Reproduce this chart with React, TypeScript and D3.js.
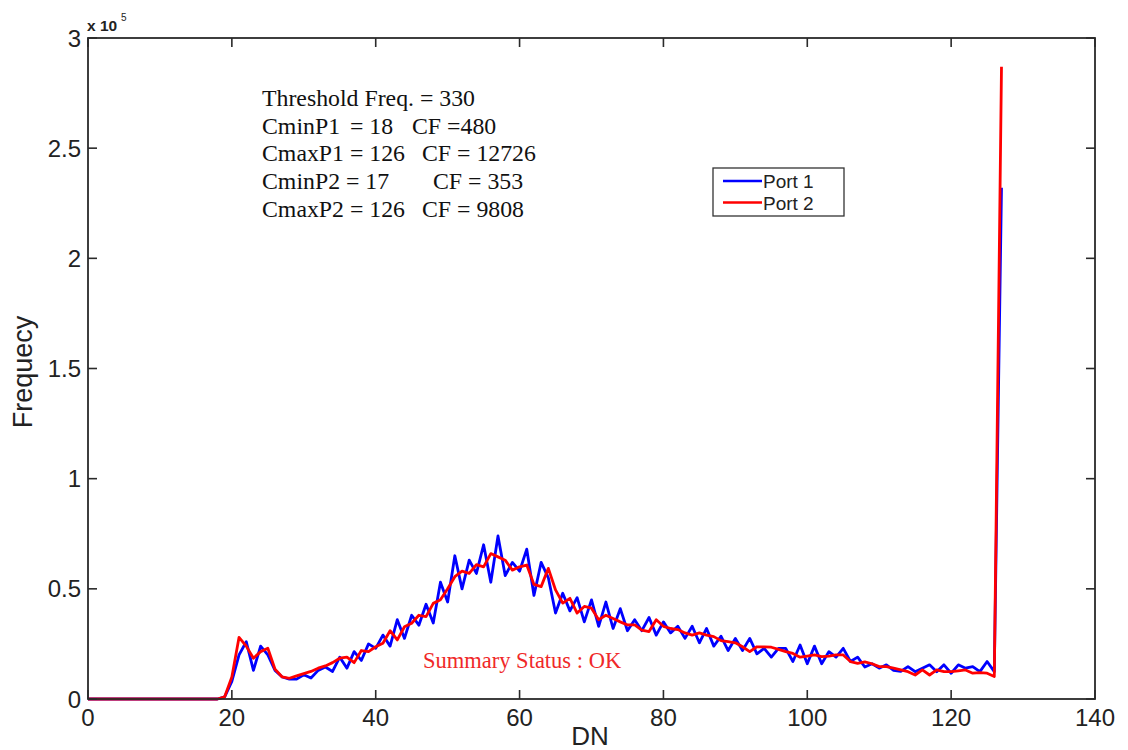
import React from "react";
import * as d3 from "d3";

const W = 1128;
const H = 750;

// DN index 0..127
const port1: number[] = [
  0, 0, 0, 0, 0, 0, 0, 0, 0, 0, 0, 0, 0, 0, 0, 0, 0, 0,
  0.0, 0.01, 0.08, 0.2, 0.26, 0.13, 0.24, 0.2, 0.13, 0.1, 0.09, 0.09,
  0.11, 0.095, 0.13, 0.145, 0.125, 0.19, 0.14, 0.215, 0.175, 0.25,
  0.23, 0.29, 0.24, 0.36, 0.275, 0.38, 0.335, 0.43, 0.345, 0.53,
  0.44, 0.65, 0.5, 0.63, 0.57, 0.7, 0.53, 0.74, 0.56, 0.62,
  0.58, 0.68, 0.47, 0.62, 0.55, 0.39, 0.48, 0.4, 0.46, 0.35,
  0.45, 0.33, 0.44, 0.32, 0.41, 0.31, 0.36, 0.31, 0.37, 0.29,
  0.35, 0.3, 0.33, 0.275, 0.33, 0.255, 0.32, 0.24, 0.285, 0.22,
  0.275, 0.22, 0.275, 0.205, 0.23, 0.19, 0.23, 0.23, 0.17, 0.245,
  0.16, 0.24, 0.16, 0.215, 0.19, 0.23, 0.17, 0.19, 0.145, 0.16,
  0.14, 0.155, 0.13, 0.125, 0.147, 0.124, 0.14, 0.155, 0.124, 0.155,
  0.117, 0.155, 0.14, 0.147, 0.124, 0.17, 0.124, 2.32,
];

const port2: number[] = [
  0, 0, 0, 0, 0, 0, 0, 0, 0, 0, 0, 0, 0, 0, 0, 0, 0, 0,
  0.0, 0.01, 0.1, 0.28, 0.24, 0.185, 0.215, 0.23, 0.135, 0.1, 0.094, 0.105,
  0.115, 0.125, 0.14, 0.15, 0.165, 0.185, 0.19, 0.165, 0.22, 0.215,
  0.237, 0.253, 0.31, 0.268, 0.328, 0.344, 0.38, 0.374, 0.434, 0.45,
  0.5, 0.555, 0.58, 0.57, 0.61, 0.6, 0.66, 0.645, 0.63, 0.585,
  0.6, 0.608, 0.52, 0.51, 0.593, 0.495, 0.435, 0.457, 0.39, 0.42,
  0.412, 0.36, 0.38, 0.365, 0.35, 0.336, 0.336, 0.313, 0.306, 0.36,
  0.33, 0.32, 0.315, 0.3, 0.29, 0.3, 0.29, 0.283, 0.265, 0.26,
  0.255, 0.237, 0.215, 0.237, 0.237, 0.235, 0.225, 0.215, 0.207, 0.19,
  0.195, 0.2, 0.192, 0.195, 0.2, 0.2, 0.17, 0.162, 0.168, 0.16,
  0.147, 0.147, 0.14, 0.132, 0.124, 0.109, 0.132, 0.109, 0.132, 0.124,
  0.124, 0.128, 0.132, 0.117, 0.12, 0.117, 0.102, 2.87,
];

const xTicks = [0, 20, 40, 60, 80, 100, 120, 140];
const yTicks = [0, 0.5, 1, 1.5, 2, 2.5, 3];
const yTickLabels = ["0", "0.5", "1", "1.5", "2", "2.5", "3"];

const seriesNames = ["Port 1", "Port 2"];
const seriesColors = ["#0000ff", "#ff0000"];

const infoLines: { parts: [string, number][] }[] = [
  { parts: [["Threshold Freq. = 330", 0]] },
  { parts: [["CminP1", 0], ["= 18", 88], ["CF =480", 150]] },
  { parts: [["CmaxP1 = 126", 0], ["CF = 12726", 160]] },
  { parts: [["CminP2", 0], ["= 17", 84], ["CF = 353", 171]] },
  { parts: [["CmaxP2 = 126", 0], ["CF = 9808", 160]] },
];

const statusText = "Summary Status : OK";

export default function App() {
  const left = 88;
  const right = 1095;
  const top = 38;
  const bottom = 699;

  const x = d3.scaleLinear().domain([0, 140]).range([left, right]);
  const y = d3.scaleLinear().domain([0, 3]).range([bottom, top]);

  const line = d3
    .line<number>()
    .x((_, i) => x(i))
    .y((d) => y(d));

  const axisColor = "#2a2a2a";
  const tickLen = 9;
  const sans = "'Liberation Sans', Arial, Helvetica, sans-serif";
  const serif = "'Liberation Serif', 'Times New Roman', serif";

  const series = [port1, port2];

  return (
    <svg
      width={W}
      height={H}
      style={{ position: "absolute", left: 0, top: 0, background: "#fff" }}
    >
      <rect x={0} y={0} width={W} height={H} fill="#fff" />

      {/* curves */}
      {series.map((s, k) => (
        <path
          key={k}
          d={line(s) || ""}
          fill="none"
          stroke={seriesColors[k]}
          strokeWidth={2.8}
          strokeLinejoin="round"
        />
      ))}

      {/* axes box */}
      <rect
        x={left}
        y={top}
        width={right - left}
        height={bottom - top}
        fill="none"
        stroke={axisColor}
        strokeWidth={1.8}
      />

      {/* x ticks */}
      {xTicks.map((t) => (
        <g key={"xt" + t}>
          <line x1={x(t)} x2={x(t)} y1={bottom} y2={bottom - tickLen} stroke={axisColor} strokeWidth={1.6} />
          <line x1={x(t)} x2={x(t)} y1={top} y2={top + tickLen} stroke={axisColor} strokeWidth={1.6} />
          <text x={x(t)} y={726} textAnchor="middle" fontFamily={sans} fontSize={24} fill="#222">
            {t}
          </text>
        </g>
      ))}

      {/* y ticks */}
      {yTicks.map((t, i) => (
        <g key={"yt" + t}>
          <line x1={left} x2={left + tickLen} y1={y(t)} y2={y(t)} stroke={axisColor} strokeWidth={1.6} />
          <line x1={right} x2={right - tickLen} y1={y(t)} y2={y(t)} stroke={axisColor} strokeWidth={1.6} />
          <text x={81} y={y(t) + 8.5} textAnchor="end" fontFamily={sans} fontSize={24} fill="#222">
            {yTickLabels[i]}
          </text>
        </g>
      ))}

      {/* exponent */}
      <text x={87} y={31} fontFamily={sans} fontSize={15.5} fontWeight="bold" fill="#222">
        x 10
      </text>
      <text x={121} y={21} fontFamily={sans} fontSize={10} fill="#222">
        5
      </text>

      {/* axis labels */}
      <text x={590} y={745} textAnchor="middle" fontFamily={sans} fontSize={26} fill="#222">
        DN
      </text>
      <text
        transform={`translate(32, 372) rotate(-90)`}
        textAnchor="middle"
        fontFamily={sans}
        fontSize={27}
        fill="#222"
      >
        Frequecy
      </text>

      {/* info text */}
      {infoLines.map((ln, i) =>
        ln.parts.map(([txt, dx], j) => (
          <text
            key={"info" + i + "_" + j}
            x={262 + dx}
            y={106 + i * 27.7}
            fontFamily={serif}
            fontSize={23.8}
            fill="#111"
            style={{ whiteSpace: "pre" }}
          >
            {txt}
          </text>
        ))
      )}

      {/* status */}
      <text x={423} y={668} fontFamily={serif} fontSize={22.5} fill="#f02828">
        {statusText}
      </text>

      {/* legend */}
      <g>
        <rect x={713} y={168} width={131} height={48} fill="#fff" stroke="#333" strokeWidth={1.3} />
        {seriesNames.map((n, i) => (
          <g key={"lg" + i}>
            <line
              x1={723}
              x2={762}
              y1={181 + i * 21.5}
              y2={181 + i * 21.5}
              stroke={seriesColors[i]}
              strokeWidth={2.6}
            />
            <text x={763} y={188 + i * 21.5} fontFamily={sans} fontSize={19} fill="#222">
              {n}
            </text>
          </g>
        ))}
      </g>
    </svg>
  );
}
